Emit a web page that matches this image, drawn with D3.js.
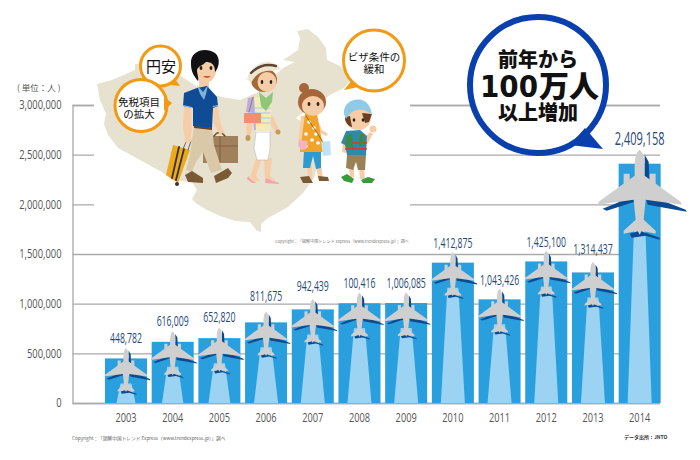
<!DOCTYPE html>
<html>
<head>
<meta charset="utf-8">
<script src="https://cdnjs.cloudflare.com/ajax/libs/d3/7.8.5/d3.min.js"></script>
<style>
	html, body { margin: 0; padding: 0; background: #fff; }
	svg { display: block; }
	text { font-family: "Open Sans", sans-serif; }
	.jp { font-family: "Noto Sans CJK JP", sans-serif; }
</style>
</head>
<body>
<svg id="chart" width="700" height="460"></svg>
<script>
var years = ["2003","2004","2005","2006","2007","2008","2009","2010","2011","2012","2013","2014"];
var visitors = [448782,616009,652820,811675,942439,1004160,1006085,1412875,1043426,1425100,1314437,2409158];
// printed labels, 2008 really is misprinted on the original
var valueLabels = ["448,782","616,009","652,820","811,675","942,439","100,416","1,006,085","1,412,875","1,043,426","1,425,100","1,314,437","2,409,158"];
var yTicks = [0,500000,1000000,1500000,2000000,2500000,3000000];

var svg = d3.select("#chart");

var x = d3.scaleBand().domain(years).range([102.65, 663]).paddingInner(0.1).paddingOuter(0.05);
var y = d3.scaleLinear().domain([0, 3000000]).range([403, 105]);
var trailWidth = d3.scaleLinear().domain([45, 80]).range([19, 24]).clamp(true);

// no condensed font installed, so squeeze the glyphs by hand
function squeeze(sel, k){
	sel.each(function(){
		d3.select(this).attr("textLength", this.getComputedTextLength() * k).attr("lengthAdjust", "spacingAndGlyphs");
	});
}

// grid + axis
var yAxis = d3.axisLeft(y).tickValues(yTicks).tickSize(-587.5).tickPadding(11).tickFormat(d3.format(","));
var yG = svg.append("g").attr("transform", "translate(72.5,0)").call(yAxis);
yG.selectAll("line").attr("stroke", "#aaa").attr("stroke-width", 1.3);
yG.select(".domain").attr("stroke", "#aaa").attr("stroke-width", 1.3);
yG.selectAll("text").attr("fill", "#555").attr("font-size", 12).call(squeeze, 0.78);

var xAxis = d3.axisBottom(x).tickSize(0).tickPadding(10);
var xG = svg.append("g").attr("transform", "translate(0,403)").call(xAxis);
xG.select(".domain").remove();
xG.selectAll("text").attr("fill", "#555").attr("font-size", 12).call(squeeze, 0.77);

// white block that cuts the upper gridlines behind the illustration
svg.append("rect").attr("x", 94).attr("y", 30).attr("width", 316).attr("height", 220).attr("fill", "#fff");

drawIllustration();

// bars
var rows = years.map(function(d, i){ return {year: d, value: visitors[i], label: valueLabels[i], last: i === years.length - 1}; });

var bars = svg.append("g").selectAll("g").data(rows).enter().append("g");

bars.append("rect")
	.attr("x", function(d){ return x(d.year); })
	.attr("y", function(d){ return y(d.value); })
	.attr("width", x.bandwidth())
	.attr("height", function(d){ return y(0) - y(d.value); })
	.attr("fill", "#2a9fdd");

bars.append("path")
	.attr("fill", "#9dd3f2")
	.attr("d", function(d){
		var cx = x(d.year) + x.bandwidth() / 2;
		var w = trailWidth(y(0) - y(d.value)) / 2;
		var top = y(d.value) + (d.last ? 60 : 25);
		return "M" + (cx - 5.5) + "," + top + "L" + (cx + 5.5) + "," + top + "L" + (cx + w) + "," + y(0) + "L" + (cx - w) + "," + y(0) + "Z";
	});

// plane drawn with the nose at 0,0 and the 2014 size as scale 1
var planeBody = "M0,0C3,2 5,8 5,16L5,26L41,52L42,55L6,50L4,70L16,81L16,84L2,81L0,85L-2,81L-16,84L-16,81L-4,70L-6,50L-42,55L-41,52L-5,26L-5,16C-5,8 -3,2 0,0Z";
var planeEngines = "M-16,24h6v11h-6ZM10,24h6v11h-6Z";
var planeShadow = "M5,5L9,12L10,36L5,36ZM-37,59L-5,46L-5,52L-33,61ZM5,44L46,60L47,62L8,55ZM-10,84L0,81L20,88L20,90L6,86L-8,88Z";

var planes = bars.append("g")
	.attr("transform", function(d){
		var cx = x(d.year) + x.bandwidth() / 2;
		return "translate(" + cx + "," + (y(d.value) - (d.last ? 14 : 10.5)) + ") scale(" + (d.last ? 1 : 0.52) + ")";
	});
planes.append("path").attr("d", planeShadow).attr("fill", "#0b4a90");
planes.append("path").attr("d", planeEngines).attr("fill", "#cfcfcf");
planes.append("path").attr("d", planeBody).attr("fill", "#cfcfcf");

// labels sit a little uneven in the original
var labelLift = [15.5, 16, 16, 21, 18, 15, 15, 15, 14, 14, 18, 19];
bars.append("text")
	.attr("x", function(d){ return x(d.year) + x.bandwidth() / 2; })
	.attr("y", function(d, i){ return y(d.value) - labelLift[i]; })
	.attr("text-anchor", "middle")
	.attr("fill", "#1f4a78")
	.attr("font-size", function(d){ return d.last ? 19 : 15; })
	.text(function(d){ return d.label; })
	.call(squeeze, 0.58);

// unit + credits
svg.append("text").attr("class", "jp").attr("x", 17).attr("y", 91).attr("font-size", 8.5).attr("fill", "#555").text("( 単位：人 )");
svg.append("text").attr("class", "jp").attr("x", 72).attr("y", 440).attr("font-size", 4.7).attr("fill", "#666").text("Copyright：「図解中国トレンド Express（www.trendexpress.jp）」調べ");
svg.append("text").attr("class", "jp").attr("x", 275).attr("y", 243).attr("font-size", 4.1).attr("fill", "#777").text("Copyright：「図解中国トレンド Express（www.trendexpress.jp）」調べ");
svg.append("text").attr("class", "jp").attr("x", 624).attr("y", 439).attr("font-size", 5).attr("font-weight", 700).attr("fill", "#333").text("データ出所：JNTO");

drawBigBubble();

function drawBigBubble(){
	var g = svg.append("g");
	g.append("path")
		.attr("d", "M538,17A68,68 0 1 1 538,153A68,68 0 1 1 538,17Z")
		.attr("fill", "#fff").attr("stroke", "#0a3fae").attr("stroke-width", 6);
	g.append("path").attr("d", "M585,128L603,149L570,145Z").attr("fill", "#0a3fae");
	var t = g.append("g").attr("text-anchor", "middle").attr("fill", "#111");
	t.append("text").attr("class", "jp").attr("font-weight", 900).attr("x", 538).attr("y", 67).attr("font-size", 20).text("前年から");
	t.append("text").attr("x", 509).attr("y", 97).attr("font-size", 31).attr("font-weight", 700)
		.style("font-family", "'DejaVu Sans', sans-serif")
		.attr("textLength", 58).attr("lengthAdjust", "spacingAndGlyphs").text("100");
	t.append("text").attr("class", "jp").attr("font-weight", 900).attr("x", 569).attr("y", 97).attr("font-size", 30).text("万人");
	t.append("text").attr("class", "jp").attr("font-weight", 900).attr("x", 538).attr("y", 120).attr("font-size", 20).text("以上増加");
}

function drawIllustration(){
	var g = svg.append("g");
	function p(d, fill, extra){
		var e = g.append("path").attr("d", d).attr("fill", fill);
		if (extra) { e.attr("stroke", extra).attr("stroke-width", 0.6); }
		return e;
	}
	function el(cx, cy, rx, ry, fill){
		return g.append("ellipse").attr("cx", cx).attr("cy", cy).attr("rx", rx).attr("ry", ry).attr("fill", fill);
	}
	function line(d, color, w){
		return g.append("path").attr("d", d).attr("fill", "none").attr("stroke", color).attr("stroke-width", w).attr("stroke-linecap", "round");
	}

	// map of China
	p("M97,84L112,80L126,74L135,70L135,64L150,62L172,70L190,82L204,92L222,97L240,100L258,92L272,78L283,68L295,62L283,60L298,50L300,38L297,31L308,29L318,37L326,48L327,60L340,66L352,78L344,88L330,95L318,104L304,112L296,118L305,124L316,142L319,160L314,178L303,193L288,207L268,218L261,224L261,232L257,231L250,222L235,221L220,216L207,210L197,204L192,199L197,190L192,182L172,180L162,172L140,160L118,148L108,135L104,124L106,114L100,100Z", "#e6e2cf");

	// man
	var skin = "#f6cda6";
	p("M203,136h35v27h-35Z", "#a1805c");
	p("M203,146h35M220,136v27", "none").attr("stroke", "#8a6a48").attr("stroke-width", 1.5);
	line("M214,136Q219,129 225,136", "#6f5234", 1.5);
	p("M173,145L190,150L178,183L166,175Z", "#eea81c");
	line("M179,147L172,178M184,149L176,180", "#333", 1.8);
	line("M187,140L183,149M191,141L188,150", "#666", 1);
	el(177, 184, 2, 2, "#333");
	p("M194,126L212,128L214,145L222,170L211,173L203,152L196,162L192,172L186,170L190,155Z", "#d9c9a8");
	p("M194,125.5L212,127.5L212,130L194,128Z", "#6a4126");
	p("M185,175L192,171L203,178L203,183L188,182Z", "#7a5a35");
	p("M214,176L228,168L232,173L228,178L216,183Z", "#7a5a35");
	p("M184,104L191,104L192,130L190,138L185,138L183,128Z", skin);
	p("M212,104L218,104L220,122L224,132L220,135L214,124Z", skin);
	el(188, 139, 3.5, 4, skin);
	p("M199,80h10v12h-10Z", skin);
	p("M197,88L184,93L183,106L193,108L193,126L212,128L213,108L218,106L217,97L207,86Z", "#0f4c95");
	p("M197,85L203,92L208,85L206,94L204,100L200,94Z", "#7fb2d8");
	line("M183,105.5L192,107.5M213,106.5L218,105.5", "#8fc0e0", 1);
	el(205, 70, 11, 13, skin);
	p("M191,64C190,50 206,47 215,53C221,58 219,68 215,72C215,64 211,62 206,62C202,66 198,66 197,70C197,74 199,78 198,81C194,76 191,72 191,64Z", "#111");
	el(201, 68, 1.4, 2, "#222");
	el(211, 68, 1.4, 2, "#222");
	p("M203,76Q207,80 211,76Z", "#c55a3a");

	// woman
	p("M250,178L256,158L262,158L256,176L260,181L250,182Z", skin);
	p("M264,158L272,158L270,176L278,183L265,181Z", skin);
	p("M248,176L252,181L257,183L252,183L247,179Z", "#f0a5ad");
	p("M266,178L272,181L279,183L279,184L265,183Z", "#f0a5ad");
	p("M256,132L270,132L270,148L268,160L257,160L254,148Z", "#fff", "#bbb");
	p("M248,120L253,118L252,128L250,137L247,138L246,128Z", skin);
	p("M269,115L273,116L278,128L280,133L277,134L271,125Z", skin);
	el(248, 138, 2.5, 3, "#c9965c");
	el(278, 132, 2.5, 2.5, "#c9965c");
	p("M254,97L272,97L270,132L256,132L253,120Z", "#f2ecb8");
	line("M255,108H270M255,113H270M255,118H270M255,123H270", "#c4d0e8", 1.6);
	p("M254,97L248,98L246,112L253,113L254,130L256,130Z", "#b7aee0");
	p("M244,113L261,113L261,123L244,123Z", "#ef8f74");
	line("M249,112L253,97", "#b85a44", 0.8);
	el(264, 80, 13, 12, "#a4693a");
	el(267, 82, 9.5, 10, skin);
	p("M259,92L266,98L273,92L272,102L266,111L261,106Z", "#8fc67a");
	p("M247,79C250,67 262,60 270,62L277,65L281,69L272,71C264,70 256,73 251,83Z", "#efe6d2");
	line("M251,73Q262,62 276,66", "#5e4630", 2.4);
	el(262, 82, 1.3, 2, "#222");
	el(271, 82, 1.3, 2, "#222");

	// girl
	p("M307,165h5l0,14h-4ZM316,165h5l2,13h-5Z", skin);
	p("M304,150L321,150L321,168L316,169L313,156L310,168L303,168Z", "#2f9ad0");
	p("M300,177L309,176L313,183L303,183Z", "#7a5a35");
	p("M318,176L328,177L329,181L319,181Z", "#7a5a35");
	p("M301,116L306,116L303,138L302,143L298,142Z", skin);
	p("M317,118L322,130L328,134L326,136L319,132L314,122Z", skin);
	p("M305,114L317,114L324,152L300,152Z", "#f0a52a");
	[[309,122],[314,128],[306,134],[312,140],[318,143],[306,146],[316,134]].forEach(function(c){
		el(c[0], c[1], 1.8, 1.8, "#fff");
	});
	line("M306,116L323,142", "#7a4a20", 0.7);
	p("M321,142L330,141L331,155L323,156Z", "#bfe3f2");
	p("M299,140L308,141L306,149L302,150L298,146Z", "#f4b3c2");
	el(304, 88, 5, 5, "#a5673a");
	el(312, 102, 14, 13, "#a5673a");
	el(313, 106, 11, 10, skin);
	el(309, 104, 1.4, 2, "#222");
	el(318, 104, 1.4, 2, "#222");

	// boy
	p("M349,168h5v9h-4ZM359,168h5l1,11h-5Z", skin);
	p("M347,155L366,155L365,170L358,170L356,162L353,170L346,168Z", "#9a8258");
	p("M341,177L347,174L354,179L352,183L344,181Z", "#3b9a3b");
	p("M361,180L368,177L375,179L372,183L363,183Z", "#3b9a3b");
	p("M343,140L348,140L348,150L346,153L342,152Z", skin);
	p("M364,138L370,132L373,134L368,143L365,145Z", skin);
	el(373, 129, 3.5, 3.5, skin);
	p("M346,131L360,130L367,136L366,155L347,155L345,145L341,143Z", "#2f8aa8");
	line("M346,143H366M346,149H366", "#c8423a", 2);
	p("M346,136L352,134L353,148L346,146Z", "#3a8a4a");
	p("M360,134L364,134L363,146L359,146Z", "#3a8a4a");
	el(358, 118, 13, 12, skin);
	p("M345,117C344,121 349,127 352,127L350,116ZM362,113L372,114L369,122L365,123Z", "#6a4020");
	p("M344,114C343,103 353,98 362,100C368,102 371,108 372,114L364,110C356,108 350,112 346,119Z", "#8fcbe6");
	el(354, 120, 1.3, 1.8, "#222");
	el(363, 120, 1.3, 1.8, "#222");

	// orange bubbles
	function bubble(cx, cy, r, tail){
		g.append("circle").attr("cx", cx).attr("cy", cy).attr("r", r).attr("fill", "#fff").attr("stroke", "#f39a14").attr("stroke-width", 3);
		p(tail, "#f39a14");
	}
	function say(cx, base, size, str){
		g.append("text").attr("class", "jp").attr("x", cx).attr("y", base).attr("text-anchor", "middle")
			.attr("font-size", size).attr("fill", "#111").text(str);
	}
	bubble(160.5, 66, 20, "M175,79L180,86L170,85Z");
	say(161, 72, 15, "円安");
	bubble(141, 105.5, 26, "M164,97L172,103L164,111Z");
	say(139, 106, 10.5, "免税項目");
	say(139, 118, 10.5, "の拡大");
	bubble(374, 60.5, 30.5, "M352,80L344,90L358,87Z");
	say(374, 61, 10.5, "ビザ条件の");
	say(374, 73, 10.5, "緩和");
}
</script>
</body>
</html>
